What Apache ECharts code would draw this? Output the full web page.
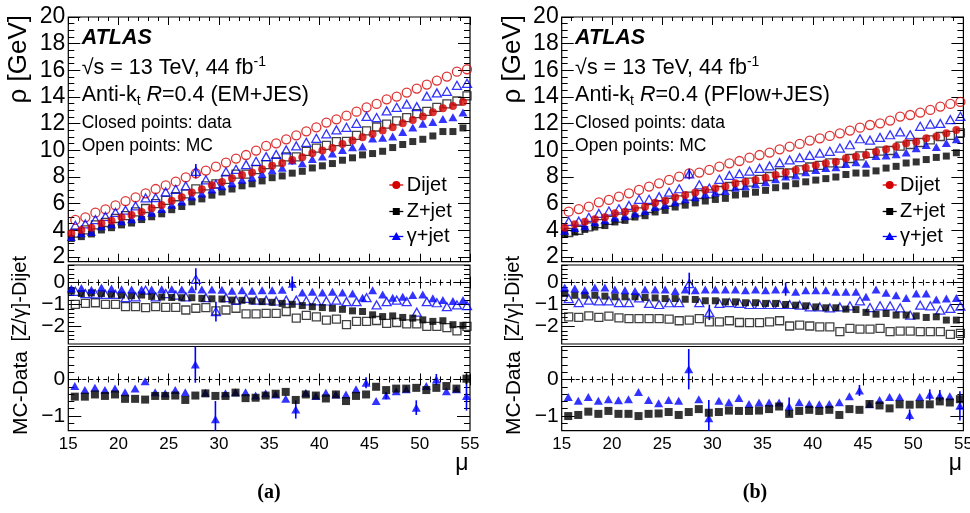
<!DOCTYPE html>
<html><head><meta charset="utf-8">
<script src="https://cdn.jsdelivr.net/npm/echarts@6/dist/echarts.min.js"></script>
<style>html,body{margin:0;padding:0;background:#fff}#c{width:970px;height:513px}</style>
</head><body><div id="c"></div>
<script>
// ---------- data ----------
const mu = [15.5,16.5,17.5,18.5,19.5,20.5,21.5,22.5,23.5,24.5,25.5,26.5,27.5,28.5,29.5,30.5,31.5,32.5,33.5,34.5,35.5,36.5,37.5,38.5,39.5,40.5,41.5,42.5,43.5,44.5,45.5,46.5,47.5,48.5,49.5,50.5,51.5,52.5,53.5,54.5];
const xTickLabels = [15,20,25,30,35,40,45,50,55];
const yTicksRho = [2,4,6,8,10,12,14,16,18,20];
const yTicksDiff = [-2,-1,0];
const yTicksMcData = [-1,0];

// (a) EM+JES
const dijetDataEM = [3.78,4.03,4.20,4.53,4.73,4.98,5.15,5.38,5.65,5.90,6.23,6.48,6.83,7.08,7.38,7.63,7.90,8.15,8.33,8.58,8.85,9.03,9.28,9.48,9.78,9.98,10.18,10.48,10.73,10.98,11.23,11.48,11.73,12.03,12.28,12.53,12.85,13.15,13.33,13.63];
const dijetMcEM = [4.78,4.98,5.33,5.58,5.88,6.20,6.48,6.78,7.10,7.38,7.65,7.98,8.28,8.48,8.78,9.08,9.38,9.65,9.98,10.33,10.53,10.83,11.13,11.43,11.73,12.08,12.33,12.60,12.90,13.23,13.48,13.83,14.03,14.33,14.63,14.93,15.23,15.53,15.90,16.08];
const zjetDataEM = [3.39,3.53,3.73,4.03,4.20,4.41,4.55,4.81,5.02,5.24,5.55,5.79,6.14,6.36,6.64,6.88,7.10,7.34,7.49,7.71,7.95,8.08,8.29,8.43,8.68,8.84,9.01,9.26,9.44,9.66,9.76,9.93,10.21,10.44,10.66,10.83,11.08,11.41,11.41,11.68];
const zjetMcEM = [3.79,4.03,4.41,4.59,4.89,5.10,5.38,5.64,6.00,6.25,6.52,6.73,7.11,7.34,7.49,7.83,8.21,8.22,8.55,8.93,9.13,9.51,9.51,9.93,10.17,10.37,10.66,10.68,11.13,11.46,11.75,11.97,12.21,12.45,12.75,12.93,13.23,13.48,13.70,14.08];
const gjetDataEM = [3.51,3.78,3.87,4.31,4.46,4.68,4.83,5.06,5.33,5.60,5.93,6.16,6.53,6.76,7.06,7.30,7.53,7.80,7.96,8.23,8.50,8.70,9.23,9.03,9.36,9.53,9.76,10.03,10.23,10.29,10.88,10.94,11.04,11.38,11.71,11.99,12.13,12.35,12.49,12.83];
const gjetMcEM = [4.38,4.48,4.81,5.04,5.34,5.51,5.83,6.43,6.45,6.88,7.08,7.33,8.43,7.79,7.46,8.39,8.58,8.93,9.18,9.53,9.69,10.03,10.33,10.60,10.90,11.24,11.53,11.73,12.03,12.54,12.46,12.96,13.23,13.46,13.28,14.06,14.31,14.43,14.88,15.03];
const zDiffDataEM = [-0.39,-0.50,-0.47,-0.50,-0.53,-0.57,-0.60,-0.57,-0.63,-0.66,-0.68,-0.69,-0.69,-0.72,-0.74,-0.75,-0.80,-0.81,-0.84,-0.87,-0.90,-0.95,-0.99,-1.05,-1.10,-1.14,-1.17,-1.22,-1.29,-1.32,-1.47,-1.55,-1.52,-1.59,-1.62,-1.70,-1.77,-1.74,-1.92,-1.95];
const zDiffMcEM = [-0.99,-0.95,-0.92,-0.99,-0.99,-1.10,-1.10,-1.14,-1.10,-1.13,-1.13,-1.25,-1.17,-1.14,-1.29,-1.25,-1.17,-1.43,-1.43,-1.40,-1.40,-1.32,-1.62,-1.50,-1.56,-1.71,-1.67,-1.92,-1.77,-1.77,-1.73,-1.86,-1.82,-1.88,-1.88,-2.00,-2.00,-2.05,-2.20,-2.00];
const gDiffDataEM = [-0.27,-0.25,-0.33,-0.22,-0.27,-0.30,-0.32,-0.32,-0.32,-0.30,-0.30,-0.32,-0.30,-0.32,-0.32,-0.33,-0.37,-0.35,-0.37,-0.35,-0.35,-0.33,-0.05,-0.45,-0.42,-0.45,-0.42,-0.45,-0.50,-0.69,-0.35,-0.54,-0.69,-0.65,-0.57,-0.54,-0.72,-0.80,-0.84,-0.80];
const gDiffMcEM = [-0.40,-0.50,-0.52,-0.54,-0.54,-0.69,-0.65,-0.35,-0.65,-0.50,-0.57,-0.65,0.15,-0.69,-1.32,-0.69,-0.80,-0.72,-0.80,-0.80,-0.84,-0.80,-0.80,-0.83,-0.83,-0.84,-0.80,-0.87,-0.87,-0.69,-1.02,-0.87,-0.80,-0.87,-1.35,-0.87,-0.92,-1.10,-1.02,-1.05];
const zMcDataEM = [-0.47,-0.47,-0.41,-0.45,-0.41,-0.53,-0.53,-0.55,-0.45,-0.45,-0.44,-0.56,-0.44,-0.38,-0.45,-0.45,-0.36,-0.51,-0.50,-0.44,-0.39,-0.34,-0.56,-0.41,-0.44,-0.52,-0.41,-0.59,-0.45,-0.41,-0.20,-0.29,-0.25,-0.25,-0.23,-0.29,-0.23,-0.18,-0.25,0.02];
const gMcDataEM = [-0.18,-0.29,-0.23,-0.29,-0.25,-0.35,-0.25,-0.05,-0.35,-0.38,-0.29,-0.35,0.41,-0.36,-1.09,-0.38,-0.35,-0.35,-0.44,-0.38,-0.41,-0.53,-0.82,-0.36,-0.45,-0.36,-0.41,-0.41,-0.27,-0.09,-0.59,-0.44,-0.32,-0.27,-0.77,-0.18,0.00,-0.32,-0.27,-0.45];

// (b) PFlow+JES
const dijetDataPF = [4.20,4.45,4.65,4.83,4.98,5.28,5.40,5.65,5.78,6.08,6.23,6.48,6.65,6.83,7.03,7.15,7.28,7.53,7.65,7.78,7.95,8.15,8.33,8.53,8.70,8.88,9.03,9.15,9.40,9.53,9.65,9.90,10.08,10.28,10.53,10.65,10.90,11.03,11.28,11.53];
const dijetMcPF = [5.40,5.60,5.78,6.10,6.28,6.53,6.78,7.03,7.28,7.53,7.78,8.03,8.28,8.33,8.53,8.78,9.03,9.20,9.45,9.65,9.83,10.08,10.28,10.48,10.73,10.90,11.08,11.28,11.48,11.70,11.90,12.03,12.23,12.53,12.65,12.83,13.03,13.28,13.48,13.63];
const zjetDataPF = [3.70,3.87,4.07,4.25,4.36,4.63,4.75,5.00,5.10,5.38,5.50,5.75,5.89,6.06,6.20,6.32,6.40,6.65,6.73,6.86,7.00,7.20,7.33,7.50,7.64,7.77,7.88,8.00,8.19,8.30,8.29,8.46,8.67,8.80,9.05,9.13,9.31,9.47,9.57,9.82];
const zjetMcPF = [3.84,4.01,4.26,4.51,4.75,4.92,5.14,5.39,5.64,5.89,6.11,6.29,6.57,6.69,6.74,6.99,7.29,7.38,7.62,7.82,8.04,8.34,8.30,8.54,8.75,8.88,9.06,9.04,9.39,9.58,9.78,9.94,9.99,10.32,10.44,10.59,10.79,11.04,11.12,11.31];
const gjetDataPF = [3.97,4.18,4.30,4.60,4.75,4.96,5.05,5.27,5.46,5.76,5.91,6.10,6.33,6.48,6.71,6.83,6.96,7.21,7.30,7.46,7.60,7.83,8.03,8.11,8.35,8.53,8.68,8.73,8.98,9.11,9.00,9.58,9.61,9.70,9.83,10.15,10.40,10.26,10.55,10.83];
const gjetMcPF = [4.67,4.69,4.98,5.27,5.45,5.62,5.87,6.33,6.33,6.53,6.86,7.12,8.23,7.42,7.17,7.83,8.12,8.25,8.45,8.65,8.83,9.08,9.28,9.45,9.62,9.79,9.93,10.17,10.42,10.87,10.76,10.97,11.17,11.38,11.17,11.80,11.97,12.02,12.30,12.55];
const zDiffDataPF = [-0.50,-0.58,-0.58,-0.58,-0.62,-0.65,-0.65,-0.65,-0.68,-0.70,-0.73,-0.73,-0.76,-0.77,-0.83,-0.83,-0.88,-0.88,-0.92,-0.92,-0.95,-0.95,-1.00,-1.03,-1.06,-1.11,-1.15,-1.15,-1.21,-1.23,-1.36,-1.44,-1.41,-1.48,-1.48,-1.52,-1.59,-1.56,-1.71,-1.71];
const zDiffMcPF = [-1.56,-1.59,-1.52,-1.59,-1.53,-1.61,-1.64,-1.64,-1.64,-1.64,-1.67,-1.74,-1.71,-1.64,-1.79,-1.79,-1.74,-1.82,-1.83,-1.83,-1.79,-1.74,-1.98,-1.94,-1.98,-2.02,-2.02,-2.24,-2.09,-2.12,-2.12,-2.09,-2.24,-2.21,-2.21,-2.24,-2.24,-2.24,-2.36,-2.32];
const gDiffDataPF = [-0.23,-0.27,-0.35,-0.23,-0.23,-0.32,-0.35,-0.38,-0.32,-0.32,-0.32,-0.38,-0.32,-0.35,-0.32,-0.32,-0.32,-0.32,-0.35,-0.32,-0.35,-0.32,-0.30,-0.42,-0.35,-0.35,-0.35,-0.42,-0.42,-0.42,-0.65,-0.32,-0.47,-0.58,-0.70,-0.50,-0.50,-0.77,-0.73,-0.70];
const gDiffMcPF = [-0.73,-0.91,-0.80,-0.83,-0.83,-0.91,-0.91,-0.70,-0.95,-1.00,-0.92,-0.91,-0.05,-0.91,-1.36,-0.95,-0.91,-0.95,-1.00,-1.00,-1.00,-1.00,-1.00,-1.03,-1.11,-1.11,-1.15,-1.11,-1.06,-0.83,-1.14,-1.06,-1.06,-1.15,-1.48,-1.03,-1.06,-1.26,-1.18,-1.08];
const zMcDataPF = [-1.00,-0.97,-0.88,-0.94,-0.86,-0.94,-0.94,-1.00,-0.94,-0.93,-0.89,-0.97,-0.89,-0.81,-0.91,-0.89,-0.85,-0.86,-0.86,-0.85,-0.81,-0.74,-0.94,-0.86,-0.83,-0.86,-0.83,-0.97,-0.81,-0.83,-0.67,-0.71,-0.79,-0.68,-0.69,-0.68,-0.68,-0.60,-0.63,-0.54];
const gMcDataPF = [-0.48,-0.58,-0.48,-0.58,-0.54,-0.57,-0.54,-0.34,-0.56,-0.65,-0.56,-0.58,0.28,-0.54,-1.06,-0.58,-0.62,-0.51,-0.67,-0.63,-0.63,-0.63,-0.74,-0.62,-0.67,-0.68,-0.67,-0.62,-0.46,-0.30,-0.68,-0.56,-0.48,-0.48,-0.97,-0.48,-0.42,-0.44,-0.46,-0.72];

// visible error bars: [mu, half-length]
const errGjetMcTopEM = [[27.5,0.55]];
const errGjetDataTopEM = [[37.5,0.3]];
const errGDiffMcEM = [[27.5,0.5],[29.5,0.45]];
const errGDiffDataEM = [[37.5,0.33]];
const errGMcDataEM = [[27.5,0.5],[29.5,0.5],[37.5,0.25],[44.5,0.15],[46.5,0.1],[49.5,0.2],[51.5,0.15],[54.5,0.4]];
const errZMcDataEM = [[54.5,0.15]];
const errGjetMcTopPF = [[27.5,0.4]];
const errGjetDataTopPF = [[37.5,0.2]];
const errGDiffMcPF = [[27.5,0.5],[29.5,0.35]];
const errGDiffDataPF = [[37.5,0.3]];
const errGMcDataPF = [[27.5,0.55],[29.5,0.5],[37.5,0.25],[44.5,0.15],[49.5,0.15],[51.5,0.15],[52.5,0.15],[54.5,0.4]];
const errZMcDataPF = [];

// ---------- layout / style ----------
const FONT = '"Liberation Sans", Arial, Helvetica, sans-serif';
const RED = '#d40000', BLUE = '#0000ff', BLACK = '#000000';
const PW = 401.7;
const OFF_DATA = -0.2, OFF_MC = 0.2, OFF_RATIO = 0.15;

const rows = [
  {top:17, h:244.7, min:1.65, max:20, major:yTicksRho, minorStep:0.5, yMaj:12, yMin:6, xMaj:8, xMin:4, lab:23},
  {top:265, h:79, min:-2.8, max:0.8, major:yTicksDiff, minorStep:0.2, yMaj:13, yMin:6, xMaj:6, xMin:3, lab:21},
  {top:346.5, h:84.2, min:-1.4, max:0.9, major:yTicksMcData, minorStep:0.2, yMaj:13, yMin:6, xMaj:6, xMin:3, lab:21}
];
function steps(a, b, s) { const r = []; for (let v = a; v <= b + 1e-9; v += s) r.push(Math.round(v * 1000) / 1000); return r; }
const xMinor = steps(15, 55, 1);

const panels = [
  {x0:68.3, tag:'EM+JES', letter:'(a)', letterX:269,
   top:[dijetMcEM, zjetMcEM, gjetMcEM, dijetDataEM, zjetDataEM, gjetDataEM],
   mid:[zDiffMcEM, gDiffMcEM, zDiffDataEM, gDiffDataEM],
   bot:[gMcDataEM, zMcDataEM],
   err:{gMcTop:errGjetMcTopEM, gDataTop:errGjetDataTopEM, gDiffMc:errGDiffMcEM, gDiffData:errGDiffDataEM, gRatio:errGMcDataEM, zRatio:errZMcDataEM}},
  {x0:561.7, tag:'PFlow+JES', letter:'(b)', letterX:755,
   top:[dijetMcPF, zjetMcPF, gjetMcPF, dijetDataPF, zjetDataPF, gjetDataPF],
   mid:[zDiffMcPF, gDiffMcPF, zDiffDataPF, gDiffDataPF],
   bot:[gMcDataPF, zMcDataPF],
   err:{gMcTop:errGjetMcTopPF, gDataTop:errGjetDataTopPF, gDiffMc:errGDiffMcPF, gDiffData:errGDiffDataPF, gRatio:errGMcDataPF, zRatio:errZMcDataPF}}
];

const grids = [], xAxes = [], yAxes = [], series = [], graphics = [];
const minusFmt = v => String(v).replace('-', '\u2212');

function addAxis(list, gi, isX, position, ticks, len, labels, row) {
  const a = {
    type:'value', gridIndex:gi, position,
    min: isX ? 15 : row.min, max: isX ? 55 : row.max,
    axisLine:{show:false}, splitLine:{show:false},
    axisTick:{show:true, inside:true, length:len, customValues:ticks, lineStyle:{color:'#000', width:1}},
    axisLabel:{show:false}
  };
  if (labels) {
    a.axisLabel = {show:true, customValues:labels, formatter:minusFmt, color:'#000',
      fontFamily:FONT, fontSize: isX ? 17 : row.lab, margin: isX ? 5 : 3};
  }
  list.push(a);
  return list.length - 1;
}

function scatter(xi, yi, xs, ys, sym, size, color, open, z) {
  return {type:'scatter', xAxisIndex:xi, yAxisIndex:yi, symbol:sym, symbolSize:size,
    data: xs.map((x, i) => [x, ys[i]]), silent:true, animation:false, z: z,
    itemStyle: open ? {color:'rgba(0,0,0,0)', borderColor:color, borderWidth:1.3}
                    : {color:color, borderWidth:0}};
}
function errBars(xi, yi, xs, ys, errs, color, lo, hi) {
  const d = errs.map(([m, e]) => { const i = mu.indexOf(m); return [xs[i], ys[i], e]; });
  return {type:'custom', xAxisIndex:xi, yAxisIndex:yi, data:d, silent:true, animation:false, z:3,
    renderItem: (params, api) => {
      const x = api.value(0), y = api.value(1), e = api.value(2);
      const a = api.coord([x, Math.min(hi, y + e)]), b = api.coord([x, Math.max(lo, y - e)]);
      return {type:'line', shape:{x1:a[0], y1:a[1], x2:b[0], y2:b[1]}, style:{stroke:color, lineWidth:1.6}};
    }};
}
const zeroLine = {silent:true, symbol:['none','none'], label:{show:false}, animation:false,
  lineStyle:{color:'#000', type:[4,3], width:1.2}, data:[{yAxis:0}]};

panels.forEach((p) => {
  const axIdx = [];
  rows.forEach((row, r) => {
    const gi = grids.length;
    grids.push({left:p.x0, top:row.top, width:PW, height:row.h, show:true, borderColor:'#000', borderWidth:1.2,
      backgroundColor:'rgba(0,0,0,0)', containLabel:false, outerBoundsMode:'none'});
    const isBottom = r === 2;
    const xi = addAxis(xAxes, gi, true, 'bottom', xTickLabels, row.xMaj, isBottom ? xTickLabels : null, row);
    addAxis(xAxes, gi, true, 'bottom', xMinor, row.xMin, null, row);
    addAxis(xAxes, gi, true, 'top', xTickLabels, row.xMaj, null, row);
    addAxis(xAxes, gi, true, 'top', xMinor, row.xMin, null, row);
    const yMinor = steps(Math.ceil(row.min / row.minorStep) * row.minorStep, row.max, row.minorStep);
    const yi = addAxis(yAxes, gi, false, 'left', row.major, row.yMaj, row.major, row);
    addAxis(yAxes, gi, false, 'left', yMinor, row.yMin, null, row);
    addAxis(yAxes, gi, false, 'right', row.major, row.yMaj, null, row);
    addAxis(yAxes, gi, false, 'right', yMinor, row.yMin, null, row);
    axIdx.push([xi, yi]);
  });
  const xData = mu.map(m => m + OFF_DATA), xMc = mu.map(m => m + OFF_MC), xRat = mu.map(m => m + OFF_RATIO);
  // top
  let [xi, yi] = axIdx[0];
  const t = p.top;
  series.push(scatter(xi, yi, xMc, t[0], 'circle', 9, RED, true, 4));
  series.push(scatter(xi, yi, xMc, t[1], 'rect', 8, '#111', true, 4));
  series.push(scatter(xi, yi, xMc, t[2], 'triangle', [9,8], BLUE, true, 4));
  series.push(scatter(xi, yi, xData, t[4], 'rect', 7, BLACK, false, 5));
  series.push(scatter(xi, yi, xData, t[5], 'triangle', [9,8], BLUE, false, 5));
  series.push(scatter(xi, yi, xData, t[3], 'circle', 8, RED, false, 6));
  series.push(errBars(xi, yi, xMc, t[2], p.err.gMcTop, BLUE, rows[0].min, rows[0].max));
  series.push(errBars(xi, yi, xData, t[5], p.err.gDataTop, BLUE, rows[0].min, rows[0].max));
  // middle
  [xi, yi] = axIdx[1];
  const m = p.mid;
  const s1 = scatter(xi, yi, xMc, m[0], 'rect', 8, '#111', true, 4);
  s1.markLine = zeroLine;
  series.push(s1);
  series.push(scatter(xi, yi, xMc, m[1], 'triangle', [9,8], BLUE, true, 4));
  series.push(scatter(xi, yi, xData, m[2], 'rect', 7, BLACK, false, 5));
  series.push(scatter(xi, yi, xData, m[3], 'triangle', [9,8], BLUE, false, 5));
  series.push(errBars(xi, yi, xMc, m[1], p.err.gDiffMc, BLUE, rows[1].min, rows[1].max));
  series.push(errBars(xi, yi, xData, m[3], p.err.gDiffData, BLUE, rows[1].min, rows[1].max));
  // bottom
  [xi, yi] = axIdx[2];
  const b = p.bot;
  const s2 = scatter(xi, yi, xRat, b[0], 'triangle', [9,8], BLUE, false, 4);
  s2.markLine = zeroLine;
  series.push(s2);
  series.push(scatter(xi, yi, xRat, b[1], 'rect', 8, BLACK, false, 5));
  series.push(errBars(xi, yi, xRat, b[0], p.err.gRatio, BLUE, rows[2].min, rows[2].max));
  series.push(errBars(xi, yi, xRat, b[1], p.err.zRatio, BLACK, rows[2].min, rows[2].max));

  // ---- texts ----
  const x0 = p.x0;
  const base = {fill:'#000', fontFamily:FONT, fontSize:21.5, lineHeight:26};
  const sup = {fill:'#000', fontFamily:FONT, fontSize:14, lineHeight:14, verticalAlign:'top'};
  const sub = {fill:'#000', fontFamily:FONT, fontSize:14, lineHeight:13, verticalAlign:'bottom'};
  graphics.push({type:'text', x:x0 + 13.4, y:38.5, silent:true,
    style:{text:'ATLAS', fill:'#000', font:'italic bold 21.5px ' + FONT, textVerticalAlign:'middle'}});
  graphics.push({type:'text', x:x0 + 13.4, y:68, silent:true,
    style:{text:'{b|\u221As = 13 TeV, 44 fb}{s|-1}', textVerticalAlign:'middle', rich:{b:base, s:sup}}});
  graphics.push({type:'text', x:x0 + 13.4, y:95, silent:true,
    style:{text:'{b|Anti-k}{t|t}{b| }{i|R}{b|=0.4 (' + p.tag + ')}', textVerticalAlign:'middle',
      rich:{b:base, t:sub, i:Object.assign({}, base, {fontStyle:'italic'})}}});
  graphics.push({type:'text', x:x0 + 13.4, y:123, silent:true,
    style:{text:'Closed points: data', fill:'#000', font:'17.5px ' + FONT, textVerticalAlign:'middle'}});
  graphics.push({type:'text', x:x0 + 13.4, y:146.5, silent:true,
    style:{text:'Open points: MC', fill:'#000', font:'17.5px ' + FONT, textVerticalAlign:'middle'}});
  // legend
  const leg = [['Dijet', RED, 'circle', 185], ['Z+jet', BLACK, 'rect', 211.5], ['\u03B3+jet', BLUE, 'tri', 236.5]];
  leg.forEach(([name, col, sym, y]) => {
    const mx = x0 + 328;
    graphics.push({type:'line', silent:true, shape:{x1:mx - 7, y1:y, x2:mx + 7, y2:y}, style:{stroke:col, lineWidth:1.3}});
    if (sym === 'circle') graphics.push({type:'circle', silent:true, shape:{cx:mx, cy:y, r:4}, style:{fill:col}});
    else if (sym === 'rect') graphics.push({type:'rect', silent:true, shape:{x:mx - 3.5, y:y - 3.5, width:7, height:7}, style:{fill:col}});
    else graphics.push({type:'polygon', silent:true, shape:{points:[[mx, y - 4.5], [mx + 4.5, y + 3.5], [mx - 4.5, y + 3.5]]}, style:{fill:col}});
    graphics.push({type:'text', x:x0 + 338.4, y:y, silent:true,
      style:{text:name, fill:'#000', font:'20px ' + FONT, textVerticalAlign:'middle'}});
  });
  // axis titles
  graphics.push({type:'text', x:x0 - 49, y:15, rotation:Math.PI / 2, silent:true,
    style:{text:'\u03C1 [GeV]', fill:'#000', font:'26px ' + FONT, textAlign:'right', textVerticalAlign:'middle'}});
  graphics.push({type:'text', x:x0 - 48, y:256, rotation:Math.PI / 2, silent:true,
    style:{text:'[Z/\u03B3]-Dijet', fill:'#000', font:'20px ' + FONT, textAlign:'right', textVerticalAlign:'middle'}});
  graphics.push({type:'text', x:x0 - 47, y:351, rotation:Math.PI / 2, silent:true,
    style:{text:'MC-Data', fill:'#000', font:'21px ' + FONT, textAlign:'right', textVerticalAlign:'middle'}});
  graphics.push({type:'text', x:x0 + PW - 8, y:464, silent:true,
    style:{text:'\u03BC', fill:'#000', font:'23px ' + FONT, textAlign:'center', textVerticalAlign:'middle'}});
  graphics.push({type:'text', x:p.letterX, y:493, silent:true,
    style:{text:p.letter, fill:'#000', font:'bold 20px "Liberation Serif", "Times New Roman", serif', textAlign:'center', textVerticalAlign:'middle'}});
});

const chart = echarts.init(document.getElementById('c'), null, {renderer:'canvas', width:970, height:513});
chart.setOption({
  animation:false,
  backgroundColor:'#ffffff',
  grid:grids, xAxis:xAxes, yAxis:yAxes, series:series,
  graphic:{elements:graphics}
});
</script>
</body></html>
